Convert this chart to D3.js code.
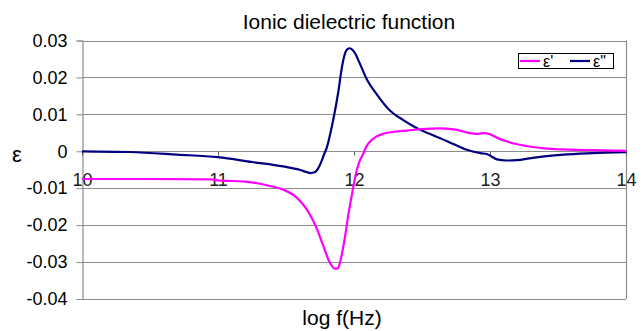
<!DOCTYPE html>
<html>
<head>
  <meta charset="utf-8">
  <title>Ionic dielectric function</title>
  <script src="https://d3js.org/d3.v7.min.js"></script>
  <style>
    body { margin: 0; background: #fff; }
    svg { display: block; font-family: "Liberation Sans", Arial, sans-serif; }
  </style>
</head>
<body>
<svg width="644" height="331"></svg>
<script>
// eps' (real part)
var logFReal = [10, 10.5, 10.95, 11.0, 11.2, 11.36, 11.48, 11.55, 11.6, 11.65, 11.7, 11.73, 11.775, 11.82, 11.86, 11.88, 11.9, 11.93, 11.96, 11.99, 12.02, 12.04, 12.07, 12.09, 12.14, 12.22, 12.3, 12.39, 12.5, 12.63, 12.72, 12.78, 12.85, 12.9, 12.95, 13.0, 13.05, 13.12, 13.2, 13.29, 13.4, 13.54, 13.75, 14]
var epsReal = [-0.0075, -0.0075, -0.0076, -0.0079, -0.0082, -0.0092, -0.0104, -0.0117, -0.0133, -0.0156, -0.0188, -0.0213, -0.0257, -0.0300, -0.0318, -0.0317, -0.0297, -0.0240, -0.0168, -0.0106, -0.0052, -0.0028, -0.0005, 0.0012, 0.0034, 0.0048, 0.0053, 0.0056, 0.0060, 0.0062, 0.0060, 0.0056, 0.0049, 0.0047, 0.0049, 0.0046, 0.0037, 0.0027, 0.0019, 0.0013, 0.0008, 0.0005, 0.0003, 0.0001]

// eps'' (imaginary part)
var logFImag = [10, 10.35, 10.7, 11.0, 11.25, 11.48, 11.6, 11.65, 11.68, 11.71, 11.73, 11.76, 11.78, 11.8, 11.83, 11.85, 11.885, 11.91, 11.93, 11.95, 11.97, 11.99, 12.01, 12.04, 12.09, 12.17, 12.26, 12.36, 12.46, 12.55, 12.63, 12.73, 12.83, 12.93, 12.98, 13.02, 13.05, 13.12, 13.2, 13.29, 13.4, 13.54, 13.75, 14]
var epsImag = [0, -0.0002, -0.0009, -0.0016, -0.0029, -0.0041, -0.0050, -0.0056, -0.0059, -0.0057, -0.0050, -0.0028, -0.0008, 0.0010, 0.0055, 0.0090, 0.0162, 0.0225, 0.0260, 0.0276, 0.0279, 0.0274, 0.0264, 0.0240, 0.0198, 0.0153, 0.0112, 0.0085, 0.0063, 0.0048, 0.0036, 0.0020, 0.0004, -0.0005, -0.0008, -0.0016, -0.0022, -0.0025, -0.0024, -0.0019, -0.0014, -0.0009, -0.0005, -0.0002]

var xTicks = [10, 11, 12, 13, 14]
var yTicks = [0.03, 0.02, 0.01, 0, -0.01, -0.02, -0.03, -0.04]

var seriesNames = ["\u03b5'", "\u03b5\""]
var seriesColors = ["#ff00ff", "#000080"]

function drawChart() {
  var svg = d3.select("svg")
  var plotLeft = 82, plotRight = 626, plotTop = 40.5, plotBottom = 299

  var x = d3.scaleLinear().domain([10, 14]).range([plotLeft, plotRight])
  var y = d3.scaleLinear().domain([-0.04, 0.03]).range([plotBottom, plotTop])

  // grid lines
  svg.append("g")
    .selectAll("line")
    .data(yTicks)
    .enter().append("line")
      .attr("x1", plotLeft).attr("x2", plotRight)
      .attr("y1", function (d) { return Math.round(y(d)) + 0.5 })
      .attr("y2", function (d) { return Math.round(y(d)) + 0.5 })
      .attr("stroke", "#8c8c8c")
      .attr("stroke-width", 1.2)

  // right border
  svg.append("line")
    .attr("x1", plotRight + 0.5).attr("x2", plotRight + 0.5)
    .attr("y1", y(0.03)).attr("y2", y(-0.04))
    .attr("stroke", "#8c8c8c").attr("stroke-width", 1.2)

  // y axis (plain hyphen for negatives, like the original)
  var yAxis = d3.axisLeft(y).tickValues(yTicks).tickSize(6).tickPadding(9)
    .tickFormat(function (d) { return d === 0 ? "0" : d3.format(".2f")(d).replace("\u2212", "-") })
  var ya = svg.append("g").attr("transform", "translate(" + (plotLeft + 0.5) + ",0)").call(yAxis)
  ya.select(".domain").attr("stroke", "#8c8c8c").attr("stroke-width", 1.2)
  ya.selectAll(".tick line").attr("stroke", "#8c8c8c")
  ya.selectAll("text").attr("font-size", 18).attr("fill", "#000")
    .attr("font-family", "Liberation Sans, Arial, sans-serif")

  // x axis sits on the zero line
  var xAxis = d3.axisBottom(x).tickValues(xTicks).tickSize(4).tickPadding(18)
    .tickFormat(d3.format("d"))
  var xa = svg.append("g").attr("transform", "translate(0," + (Math.round(y(0)) + 0.5) + ")").call(xAxis)
  xa.select(".domain").remove()
  xa.selectAll(".tick line").attr("stroke", "#555")
  xa.selectAll("text").attr("font-size", 18).attr("fill", "#222")
    .attr("font-family", "Liberation Sans, Arial, sans-serif")

  // curves
  var line = d3.line()
    .x(function (d) { return x(d[0]) })
    .y(function (d) { return y(d[1]) })
    .curve(d3.curveMonotoneX)

  var realPts = logFReal.map(function (f, i) { return [f, epsReal[i]] })
  var imagPts = logFImag.map(function (f, i) { return [f, epsImag[i]] })

  svg.append("path").datum(imagPts)
    .attr("d", line).attr("fill", "none")
    .attr("stroke", seriesColors[1]).attr("stroke-width", 2.2)
  svg.append("path").datum(realPts)
    .attr("d", line).attr("fill", "none")
    .attr("stroke", seriesColors[0]).attr("stroke-width", 2.2)

  // title and axis labels
  svg.append("text").attr("x", 349).attr("y", 29)
    .attr("text-anchor", "middle").attr("font-size", 21)
    .text("Ionic dielectric function")
  svg.append("text").attr("x", 342).attr("y", 325)
    .attr("text-anchor", "middle").attr("font-size", 21)
    .text("log f(Hz)")
  svg.append("text").attr("x", 17).attr("y", 162)
    .attr("text-anchor", "middle").attr("font-size", 22)
    .text("\u03b5")

  // legend
  var legend = svg.append("g")
  legend.append("rect")
    .attr("x", 518.5).attr("y", 53.5).attr("width", 95).attr("height", 15)
    .attr("fill", "#fff").attr("stroke", "#000").attr("stroke-width", 1)
  var legendItems = legend.selectAll("g.item")
    .data(seriesNames)
    .enter().append("g")
      .attr("class", "item")
      .attr("transform", function (d, i) { return "translate(" + (520 + i * 50) + ",61)" })
  legendItems.append("line")
    .attr("x1", 0).attr("x2", 20).attr("y1", 0).attr("y2", 0)
    .attr("stroke", function (d, i) { return seriesColors[i] }).attr("stroke-width", 2.2)
  legendItems.append("text")
    .attr("x", 23).attr("y", 6)
    .attr("font-size", 16)
    .text(function (d) { return d })
}

drawChart()
</script>
</body>
</html>
